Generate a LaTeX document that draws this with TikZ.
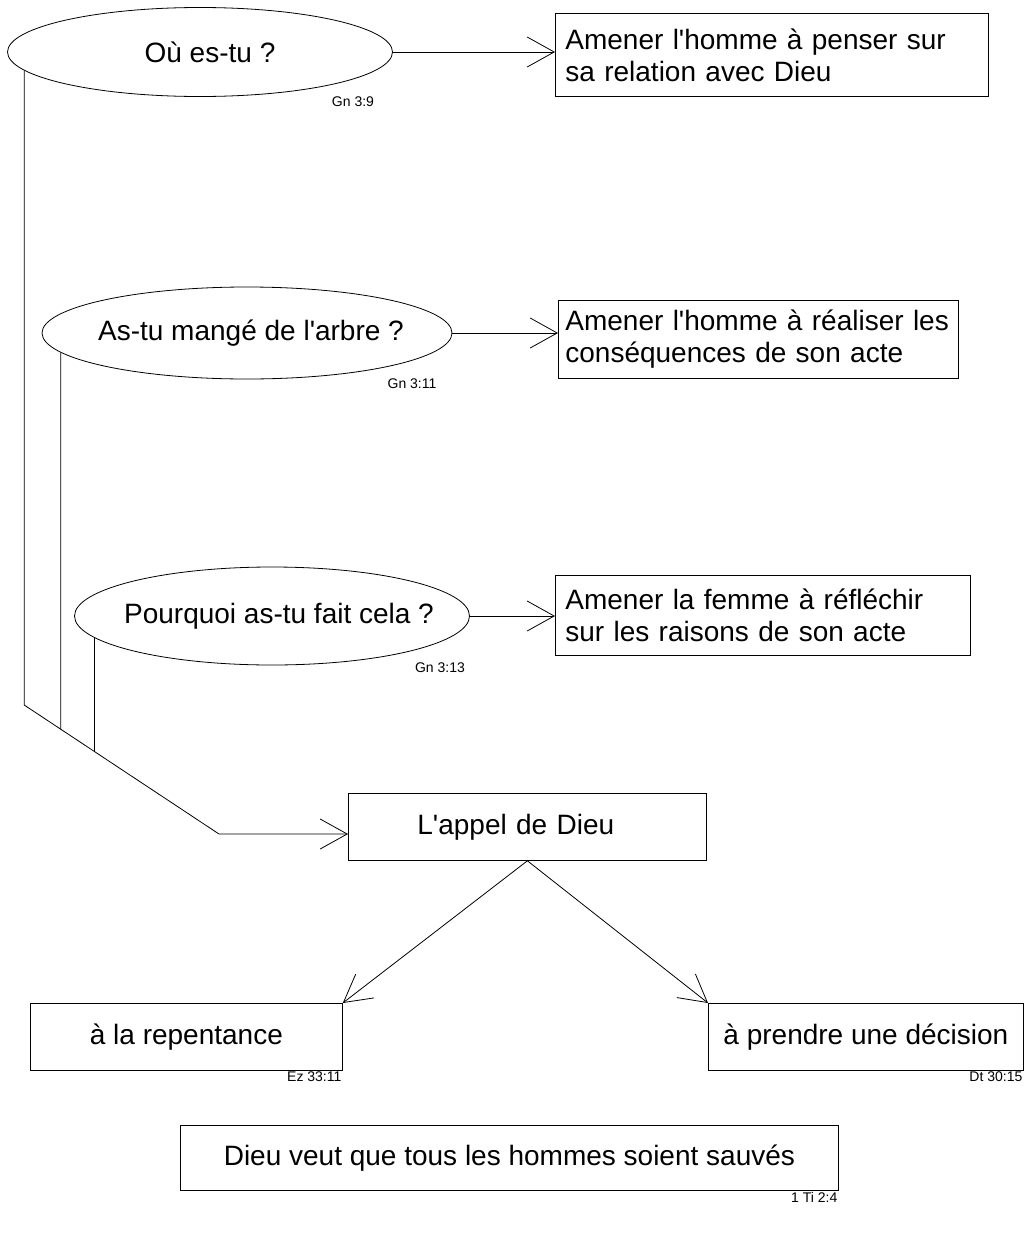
\documentclass[tikz,border=0pt]{standalone}
\usepackage{fontspec}
\setmainfont{Liberation Sans}
\usepackage{tikz}
\usetikzlibrary{arrows.meta}
\usetikzlibrary{shapes.geometric, positioning}

\begin{document}
\begin{tikzpicture}[x=1pt, y=-1pt, line width=0.8pt,
  question/.style={draw, ellipse, inner xsep=-60pt, inner ysep=0pt, font=\fontsize{28}{32}\selectfont},
  boite/.style={draw, rectangle, anchor=north west, font=\fontsize{28}{32}\selectfont},
  but/.style={boite, align=left, inner xsep=10pt},
  ref/.style={font=\fontsize{14}{16}\selectfont, inner sep=1pt},
  fleche/.style={-{Straight Barb[length=27pt, width=30pt]}}]
  \useasboundingbox (0,0) rectangle (1029,1237);

  % les trois questions
  \node[question, minimum width=385pt, minimum height=89pt] (ou) at (200,52) {\hspace{20pt}Où es-tu ?};
  \node[question, minimum width=410pt, minimum height=92pt] (mange) at (247,333) {\hspace{8pt}As-tu mangé de l\textquotesingle arbre ?};
  \node[question, minimum width=395pt, minimum height=98pt] (pourquoi) at (272,616) {\hspace{14pt}Pourquoi as-tu fait cela ?};
  \node[ref] (gn9) at (353,102) {Gn 3:9};
  \node[ref] (gn11) at (412,384) {Gn 3:11};
  \node[ref] (gn13) at (440,668) {Gn 3:13};

  % les buts
  \node[but, text width=413pt, minimum height=83pt] (penser) at (555,13) {Amener l\textquotesingle homme à penser sur\\sa relation avec Dieu};
  \node[but, inner xsep=7pt, text width=386pt, minimum height=78pt] (realiser) at (558,300) {Amener l\textquotesingle homme à réaliser les\\conséquences de son acte};
  \node[but, text width=395pt, minimum height=80pt] (reflechir) at (555,575) {Amener la femme à réfléchir\\sur les raisons de son acte};
  \draw[fleche] (ou.east) -- (ou.east -| penser.west);
  \draw[fleche] (mange.east) -- (mange.east -| realiser.west);
  \draw[fleche] (pourquoi.east) -- (pourquoi.east -| reflechir.west);

  % l'appel
  \node[boite, align=left, text width=220pt, inner xsep=69pt, minimum height=67pt] (appel) at (348,793) {L\textquotesingle appel de Dieu};
  \node[boite, minimum width=312pt, minimum height=67pt] (repentance) at (30,1003) {à la repentance};
  \node[boite, minimum width=315pt, minimum height=67pt] (decision) at (708,1003) {à prendre une décision};
  \node[ref, anchor=north east] (ez) at (repentance.south east) {Ez 33:11};
  \node[ref, anchor=north east] (dt) at (decision.south east) {Dt 30:15};

  \node[boite, minimum width=658pt, minimum height=65pt] (salut) at (180,1125) {Dieu veut que tous les hommes soient sauvés};
  \node[ref, anchor=north east] (ti) at (salut.south east) {1 Ti 2:4};

  % lignes de gauche
  \coordinate (niv) at (0,705);
  \coordinate (coude) at (ou.186.4 |- niv);
  \coordinate (pied) at (219,834);
  \draw[fleche] (ou.186.4) -- (coude) -- (pied) -- (appel.west |- pied);
  \coordinate (m1) at (mange.186.1);
  \coordinate (m2) at (m1 |- pied);
  \draw (m1) -- (intersection of coude--pied and m1--m2);
  \coordinate (p1) at (pourquoi.187.6);
  \coordinate (p2) at (p1 |- pied);
  \draw (p1) -- (intersection of coude--pied and p1--p2);

  \draw[fleche] (appel.south) -- (repentance.north east);
  \draw[fleche] (appel.south) -- (decision.north west);
\end{tikzpicture}
\end{document}
